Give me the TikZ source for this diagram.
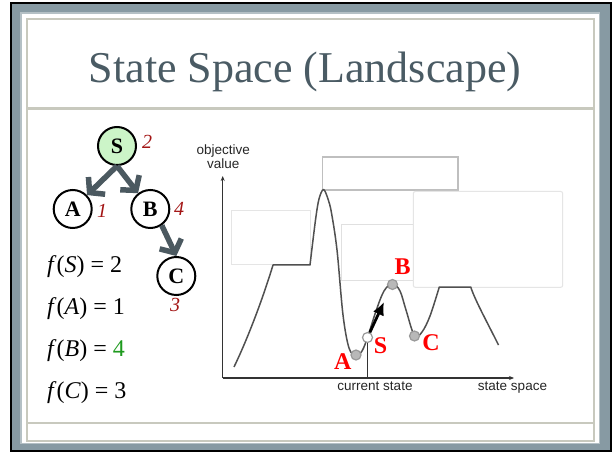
\documentclass[tikz,border=0pt]{standalone}
\usepackage{fontspec}
\setmainfont{Liberation Serif}
\newfontfamily\plotfont{Liberation Sans}
\usetikzlibrary{arrows.meta}
\definecolor{frameblue}{HTML}{879AA3}
\definecolor{framelight}{HTML}{B4C0C5}
\definecolor{beige}{HTML}{C8C9BE}
\definecolor{titlecol}{HTML}{4A5B64}
\definecolor{arrowgray}{HTML}{4B5960}
\definecolor{labred}{HTML}{A31515}
\definecolor{nodegreen}{HTML}{CCF5C8}
\definecolor{fgreen}{HTML}{1E9A1E}
\definecolor{curvegray}{HTML}{505050}
\begin{document}
\begin{tikzpicture}[x=1bp,y=-1bp,
  tnode/.style={circle,draw=black,line width=2bp,minimum size=38bp,inner sep=0pt,font=\fontsize{22bp}{24bp}\selectfont\bfseries},
  tarrow/.style={draw=arrowgray,line width=5.5bp,-{Straight Barb[length=10bp,width=24bp]}},
  numlab/.style={text=labred,font=\fontsize{20bp}{22bp}\selectfont\itshape,inner sep=0pt},
  eqn/.style={anchor=base west,font=\fontsize{24bp}{26bp}\selectfont,inner sep=0pt},
  ghost/.style={line width=1bp},
  curve/.style={draw=curvegray,line width=1.5bp,line join=round},
  axis/.style={draw=black!80,line width=1.2bp},
  marker/.style={circle,inner sep=0pt,minimum size=10bp,draw=black!40,fill=black!28,line width=1.2bp},
  redlab/.style={text=red,font=\fontsize{24bp}{26bp}\selectfont\bfseries,inner sep=0pt},
  plottext/.style={text=black!85,font=\plotfont\fontsize{13.5bp}{16bp}\selectfont,inner sep=0pt}
]
\useasboundingbox (0,0) rectangle (612,452);
% frame
\fill[white] (0,0) rectangle (612,452);
\fill[black] (9.5,2.5) rectangle (612,452);
\fill[frameblue] (12,4) rectangle (610,450);
\fill[framelight] (20,12) rectangle (600,444);
\fill[white] (22,14) rectangle (599,443);
\draw[beige,line width=2bp] (27,19) rectangle (594,441);
\draw[beige,line width=3.5bp] (27,108.5) -- (594,108.5);
\draw[beige,line width=2bp] (27,423) -- (594,423);
% title
\node[anchor=base,text=titlecol,font=\fontsize{44bp}{48bp}\selectfont,inner sep=0pt] (title) at (305,83) {State Space (Landscape)};
% tree
\node[tnode,fill=nodegreen] (S) at (117,146) {S};
\node[tnode,fill=white] (A) at (72.7,209) {A};
\node[tnode,fill=white] (B) at (150.3,209) {B};
\node[tnode,fill=white] (C) at (176.3,276) {C};
\draw[tarrow] (S.south) -- (A);
\draw[tarrow] (S.south) -- (B);
\draw[tarrow] (B.-55) -- (C.north);
\node[numlab] (l2) at (147,142) {2};
\node[numlab] (l1) at (102,211) {1};
\node[numlab] (l4) at (179,209) {4};
\node[numlab] (l3) at (175,305) {3};
% equations
\node[eqn] (fS) at (47,273) {\textit{f}(\textit{S}) = 2};
\node[eqn] (fA) at (47,314.5) {\textit{f}(\textit{A}) = 1};
\node[eqn] (fB) at (47,356.5) {\textit{f}(\textit{B}) = \textcolor{fgreen}{4}};
\node[eqn] (fC) at (47,398) {\textit{f}(\textit{C}) = 3};
% ghost boxes of the plot
\draw[ghost,draw=black!10] (231.7,210.7) rectangle (310.7,265);
\draw[ghost,draw=black!12] (341.7,224.5) rectangle (413.3,281);
\draw[ghost,draw=black!25,line width=1.5bp] (322.7,157) rectangle (458,190);
\draw[ghost,draw=black!10,fill=white,rounded corners=2bp] (413.3,191.5) rectangle (562.7,287.3);
% axes
\coordinate (O) at (222.7,378);
\coordinate (ytop) at (222.7,176);
\coordinate (xend) at (514,378);
\draw[axis,-{Stealth[length=5bp,width=4bp]}] (O) -- (ytop);
\draw[axis,-{Stealth[length=5bp,width=4bp]}] (O) -- (xend);
\node[plottext,align=center] (yl) at (223.3,156.5) {objective\\[-2bp]value};
\node[plottext,anchor=base] (xl1) at (375,390) {current state};
\node[plottext,anchor=base] (xl2) at (512.5,390) {state space};
% landscape curve
\draw[curve] (234,367) .. controls (248,338) and (263,298) .. (273,265) -- (310,265)
  -- plot[smooth,tension=0.55] coordinates {(310,265) (315.5,220) (319,199) (323.5,189.5) (328,199) (331.5,213) (337,250) (343,315) (349,348) (356,356) (362,351) (367.5,337.5) (376,311) (384,291) (392.5,283.5) (400,291) (406,310) (414.5,336) (422,332) (430,316) (439.3,287)}
  -- (470.7,287) .. controls (475,300) and (486,320) .. (498.5,345);
% markers
\node[marker] (mA) at (356,355) {};
\node[marker] (mB) at (392.5,284.5) {};
\node[marker] (mC) at (414.5,336) {};
\node[marker,fill=white] (mS) at (367.5,337.5) {};
\coordinate (cs) at (367.5,378);
\draw[axis,line width=1bp] (mS) -- (cs);
\coordinate (atip) at (384,302);
\draw[black,line width=2.8bp,-{Latex[length=13bp,width=12bp]}] (mS) -- (atip);
% red labels
\node[redlab] (rA) at (342.7,362) {A};
\node[redlab] (rS) at (380.5,346) {S};
\node[redlab] (rB) at (402.7,267) {B};
\node[redlab] (rC) at (431,342.5) {C};
\end{tikzpicture}
\end{document}
